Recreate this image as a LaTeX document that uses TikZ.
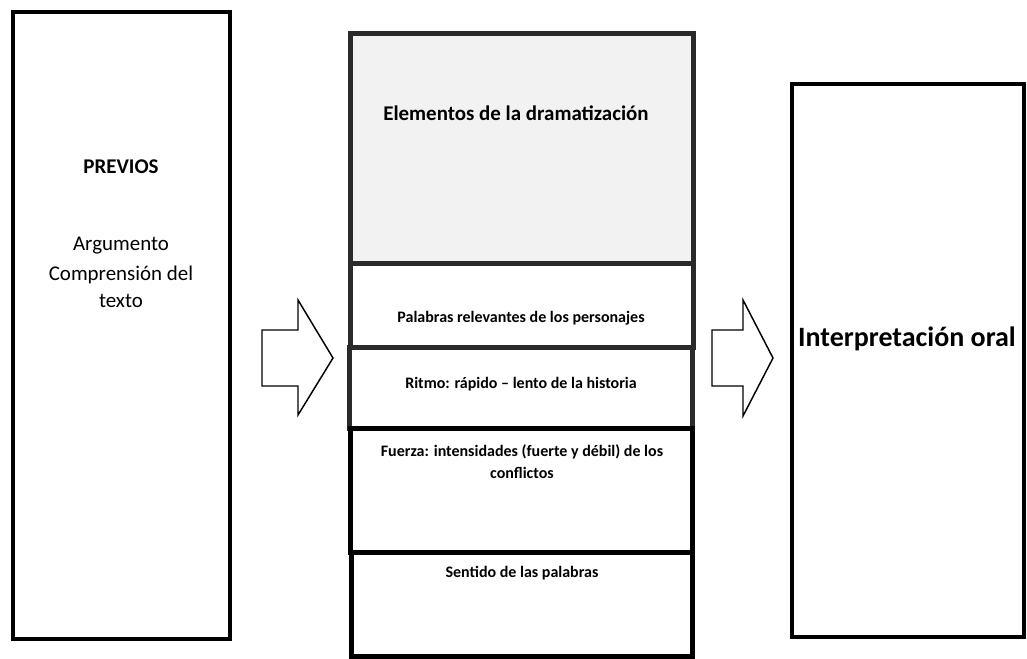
\documentclass[tikz,border=0pt]{standalone}
\usepackage{fontspec}
\setmainfont{Carlito}
\definecolor{boxgray}{HTML}{F2F2F2}
\definecolor{darkline}{HTML}{2A2A2A}
\tikzset{
  sidebox/.style={draw=black, line width=3pt, fill=white},
  midbox/.style={draw=darkline, line width=3.75pt},
  midboxblack/.style={draw=black, line width=3.75pt, fill=white},
  blockarrow/.style={draw=black, line width=1.1pt, fill=white, line join=miter},
  bigtxt/.style={font=\fontsize{15.7}{20}\selectfont\bfseries, align=center},
  normtxt/.style={font=\fontsize{15.7}{20.5}\selectfont, align=center},
  smalltxt/.style={font=\fontsize{12}{16.5}\selectfont\bfseries, align=center},
}
\begin{document}
\begin{tikzpicture}[x=0.75pt,y=-0.75pt]
\useasboundingbox (0,0) rectangle (1027,658);
% left box
\draw[sidebox] (13,12) rectangle (230,639);
\node[bigtxt] (previos) at (121,167) {PREVIOS};
\node[normtxt] (arg) at (121,246) {Argumento};
\node[normtxt] (comp) at (121,287) {Comprensión del\\texto};
% middle boxes
\draw[midbox, fill=boxgray] (350.5,33.5) rectangle (693.5,263);
\draw[midbox, fill=white] (350.5,263) rectangle (693.5,347);
\draw[midbox, fill=white] (349.5,347) rectangle (692.5,428.5);
\draw[midboxblack] (350,428.5) rectangle (692.5,552.5);
\draw[midboxblack] (351,552.5) rectangle (692.5,656);
\node[bigtxt] (elem) at (516,113) {Elementos de la dramatización};
\node[smalltxt] (pal) at (521,318) {Palabras relevantes de los personajes};
\node[smalltxt] (rit) at (521,384) {Ritmo: rápido – lento de la historia};
\node[smalltxt] (fue) at (522,462) {Fuerza: intensidades (fuerte y débil) de los\\conflictos};
\node[smalltxt] (sen) at (522,573) {Sentido de las palabras};
% right box
\draw[sidebox] (792,84) rectangle (1024,637);
\node[bigtxt, font=\fontsize{21}{24}\selectfont\bfseries] (interp) at (907,339) {Interpretación oral};
% block arrows
\draw[blockarrow] (262,330) -- (298,330) -- (298,300) -- (333,358) -- (298,415) -- (298,386) -- (262,386) -- cycle;
\draw[blockarrow] (712,330) -- (743,330) -- (743,300) -- (773,358) -- (743,416) -- (743,386) -- (712,386) -- cycle;
\end{tikzpicture}
\end{document}
